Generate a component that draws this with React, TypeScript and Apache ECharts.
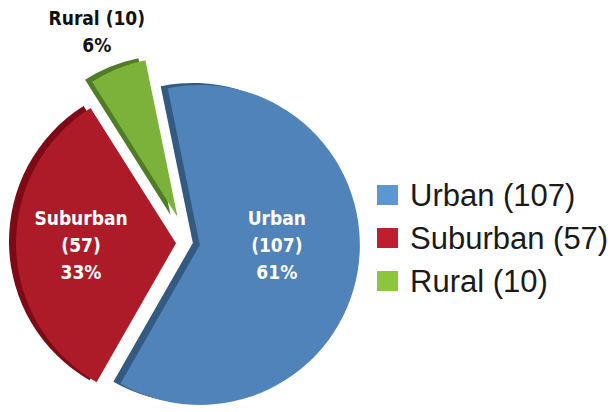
import { useEffect, useRef } from 'react';
import * as echarts from 'echarts';

const categories = ['Urban', 'Suburban', 'Rural'];
const counts = [107, 57, 10];
const faceColors = ['#5083B9', '#AE1B28', '#7CB23A'];
const depthColors = ['#335A80', '#7E0A16', '#4F7C24'];
const legendColors = ['#5B97D1', '#BE1E2D', '#8CC63F'];
const explodeOffsets = [12, 12, 28];

const CX = 188;
const CY = 243;
const R = 160;
const START = 101.6;
const DEPTH_X = -7;
const DEPTH_Y = -2;
const LABEL_FONT = '"Liberation Sans Narrow", "DejaVu Sans Condensed", "Liberation Sans", sans-serif';
// padding used to nudge inside labels horizontally: [top, right, bottom, left]
const insidePads = [
  [0, 10, 0, 0],
  [0, 24, 0, 0],
];
// extra blank line lifts the label upward
const insideLift = [true, false];

export default function App() {
  const ref = useRef<HTMLDivElement>(null);
  useEffect(() => {
    if (!ref.current) return;
    const chart = echarts.init(ref.current, undefined, { renderer: 'svg' });
    const total = counts.reduce((a, b) => a + b, 0);
    const names = categories.map((c, i) => `${c} (${counts[i]})`);
    const pct = counts.map((v) => Math.round((v / total) * 100));

    let acc = 0;
    const shifts = counts.map((v, i) => {
      const a0 = START - (acc / total) * 360;
      acc += v;
      const a1 = START - (acc / total) * 360;
      const mid = (((a0 + a1) / 2) * Math.PI) / 180;
      return [Math.cos(mid) * explodeOffsets[i], -Math.sin(mid) * explodeOffsets[i]];
    });

    const makeSeries = (i: number, depth: boolean): any => {
      const cx = CX + shifts[i][0] + (depth ? DEPTH_X : 0);
      const cy = CY + shifts[i][1] + (depth ? DEPTH_Y : 0);
      const isRural = i === 2;
      return {
        type: 'pie',
        name: (depth ? 'depth-' : 'face-') + categories[i],
        center: [cx, cy],
        radius: R,
        startAngle: START,
        clockwise: true,
        silent: true,
        avoidLabelOverlap: false,
        emphasis: { disabled: true },
        labelLine: { show: false, length: isRural ? 40 : 10, length2: 0 },
        label: { show: false },
        data: categories.map((c, j) => {
          const mine = j === i;
          const item: any = {
            name: names[j],
            value: counts[j],
            itemStyle: {
              color: mine ? (depth ? depthColors[i] : faceColors[i]) : 'rgba(0,0,0,0)',
              borderWidth: 0,
            },
            label: { show: false },
          };
          if (mine && !depth) {
            if (isRural) {
              item.label = {
                show: true,
                position: 'outside',
                distanceToLabelLine: -44,
                formatter: `{a|${c} (${counts[j]})}\n{a|${pct[j]}%}`,
                rich: {
                  a: {
                    width: 100,
                    align: 'center',
                    fontFamily: LABEL_FONT,
                    fontWeight: 'bold',
                    fontSize: 19,
                    lineHeight: 27,
                    color: '#111111',
                  },
                },
              };
            } else {
              item.label = {
                show: true,
                position: 'inside',
                formatter: `${c}\n(${counts[j]})\n${pct[j]}%` + (insideLift[i] ? '\n ' : ''),
                fontFamily: LABEL_FONT,
                fontWeight: 'bold',
                fontSize: 19,
                lineHeight: 27,
                color: '#ffffff',
                align: 'center',
                padding: insidePads[i],
              };
            }
          }
          return item;
        }),
      };
    };

    const series: any[] = [];
    for (let i = 0; i < categories.length; i++) series.push(makeSeries(i, true));
    for (let i = 0; i < categories.length; i++) series.push(makeSeries(i, false));

    chart.setOption({
      animation: false,
      backgroundColor: '#ffffff',
      legend: {
        orient: 'vertical',
        left: 377,
        top: 179.5,
        padding: 0,
        itemWidth: 21,
        itemHeight: 20,
        itemGap: 12,
        icon: 'rect',
        selectedMode: false,
        data: names.map((n, i) => ({ name: n, itemStyle: { color: legendColors[i] } })),
        textStyle: {
          fontFamily: '"Liberation Sans", Arial, sans-serif',
          fontSize: 31,
          lineHeight: 31,
          color: '#1a1a1a',
          padding: [0, 0, 0, 7],
        },
      },
      series,
    });
    return () => chart.dispose();
  }, []);
  return <div ref={ref} style={{ position: 'fixed', left: 0, top: 0, width: 613, height: 412 }} />;
}
